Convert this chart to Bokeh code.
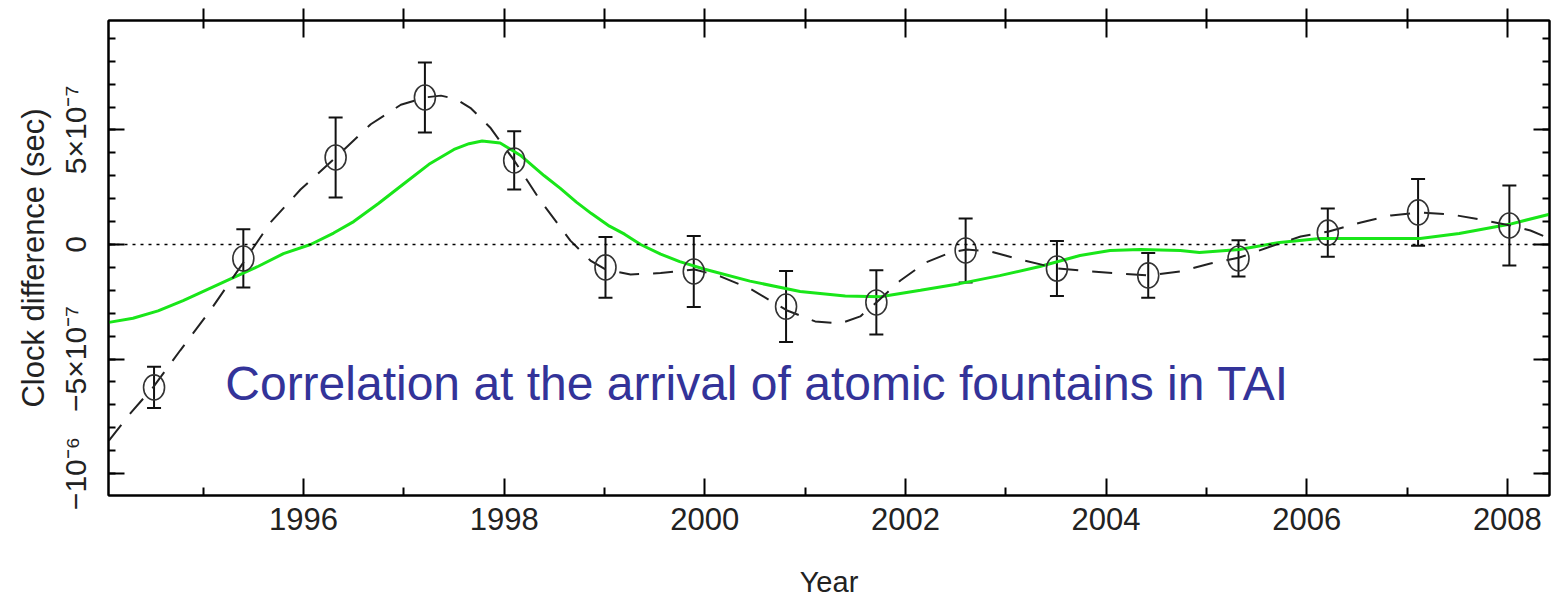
from bokeh.plotting import figure
from bokeh.models import (ColumnDataSource, Range1d, FixedTicker, LinearAxis,
                          Whisker, TeeHead, Span, Label)
from bokeh.embed import file_html
from bokeh.resources import INLINE

# ---- data (clock difference in units of 1e-7 s) ----
point_year = [1994.51, 1995.40, 1996.32, 1997.21, 1998.10, 1999.01, 1999.89, 2000.81,
              2001.71, 2002.60, 2003.51, 2004.42, 2005.32, 2006.21, 2007.11, 2008.02]
point_val = [-6.24, -0.61, 3.80, 6.42, 3.67, -1.00, -1.18, -2.71,
             -2.53, -0.26, -1.05, -1.35, -0.61, 0.52, 1.40, 0.83]
point_err = [0.90, 1.27, 1.75, 1.53, 1.27, 1.33, 1.55, 1.55,
             1.40, 1.40, 1.20, 0.98, 0.79, 1.05, 1.46, 1.75]

dash_year = [1994.06, 1994.28, 1994.50, 1994.77, 1995.07, 1995.40, 1995.67, 1995.97,
             1996.32, 1996.67, 1996.97, 1997.21, 1997.37, 1997.52, 1997.67, 1997.86,
             1998.10, 1998.36, 1998.66, 1998.86, 1999.01, 1999.26, 1999.56, 1999.90,
             2000.16, 2000.46, 2000.82, 2001.10, 2001.35, 2001.55, 2001.71, 2001.95,
             2002.20, 2002.45, 2002.61, 2002.85, 2003.15, 2003.52, 2003.85, 2004.15,
             2004.42, 2004.74, 2005.04, 2005.33, 2005.64, 2005.94, 2006.22, 2006.54,
             2006.84, 2007.12, 2007.44, 2007.73, 2008.03, 2008.23, 2008.42]
dash_val = [-8.56, -7.34, -6.24, -4.63, -2.88, -0.79, 0.96, 2.40,
            3.80, 5.25, 6.10, 6.42, 6.50, 6.35, 5.94, 5.11,
            3.67, 1.92, 0.17, -0.70, -1.09, -1.31, -1.25, -1.09,
            -1.40, -1.95, -2.88, -3.36, -3.45, -3.14, -2.53, -1.57,
            -0.79, -0.35, -0.22, -0.31, -0.66, -1.05, -1.18, -1.27,
            -1.35, -1.18, -0.83, -0.57, -0.09, 0.35, 0.57, 0.96,
            1.27, 1.40, 1.31, 1.09, 0.83, 0.61, 0.26]

green_year = [1994.06, 1994.30, 1994.55, 1994.80, 1995.05, 1995.30, 1995.55, 1995.80,
              1996.07, 1996.30, 1996.50, 1996.75, 1997.00, 1997.25, 1997.50, 1997.65,
              1997.78, 1997.96, 1998.16, 1998.40, 1998.56, 1998.72, 1998.87, 1999.05,
              1999.20, 1999.36, 1999.56, 1999.75, 2000.00, 2000.45, 2000.95, 2001.40,
              2001.75, 2002.15, 2002.54, 2002.94, 2003.34, 2003.74, 2004.04, 2004.34,
              2004.74, 2004.93, 2005.33, 2005.73, 2006.13, 2006.53, 2007.13, 2007.52,
              2008.02, 2008.42]
green_val = [-3.40, -3.22, -2.90, -2.45, -1.95, -1.45, -0.95, -0.40,
             0.00, 0.50, 1.00, 1.80, 2.65, 3.50, 4.15, 4.40,
             4.52, 4.43, 3.90, 3.00, 2.45, 1.85, 1.35, 0.80,
             0.45, 0.00, -0.42, -0.75, -1.08, -1.60, -2.05, -2.25,
             -2.28, -2.00, -1.71, -1.36, -0.96, -0.48, -0.26, -0.22,
             -0.26, -0.35, -0.22, 0.09, 0.26, 0.26, 0.26, 0.48,
             0.88, 1.32]

UNIT = 1e-7
x_major = [1994, 1996, 1998, 2000, 2002, 2004, 2006, 2008]
x_minor = [1995, 1997, 1999, 2001, 2003, 2005, 2007]
y_major = [-1e-6, -5e-7, 0.0, 5e-7]
y_major_labels = ["\u221210\u207b\u2076", "\u22125\u00d710\u207b\u2077", "0", "5\u00d710\u207b\u2077"]
y_minor = [k * 1e-7 for k in range(-11, 10)]

title_text = "Correlation at the arrival of atomic fountains in TAI"
x_title = "Year"
y_title = "Clock difference (sec)"
FONT = "Liberation Sans"

X0, X1 = 1994.056, 2008.42
Y0, Y1 = -1.096e-6, 0.978e-6

pts = ColumnDataSource(dict(
    x=point_year,
    y=[v * UNIT for v in point_val],
    upper=[(v + e) * UNIT for v, e in zip(point_val, point_err)],
    lower=[(v - e) * UNIT for v, e in zip(point_val, point_err)],
))
dash_src = ColumnDataSource(dict(x=dash_year, y=[v * UNIT for v in dash_val]))
green_src = ColumnDataSource(dict(x=green_year, y=[v * UNIT for v in green_val]))

p = figure(width=1551, height=600,
           x_range=Range1d(X0, X1), y_range=Range1d(Y0, Y1),
           output_backend="svg", toolbar_location=None,
           min_border_left=108, min_border_right=2, min_border_top=20, min_border_bottom=105,
           background_fill_color="white", border_fill_color="white")
p.xgrid.visible = False
p.ygrid.visible = False
p.outline_line_color = "black"
p.outline_line_width = 2

# zero reference line
p.add_layout(Span(location=0, dimension="width", line_color="black",
                  line_width=1.5, line_dash="3 5"))

# green curve
p.line("x", "y", source=green_src, line_color="#19e619", line_width=3)
# dashed curve
p.line("x", "y", source=dash_src, line_color="#222222", line_width=2, line_dash="20 14")

# error bars
p.add_layout(Whisker(source=pts, base="x", upper="upper", lower="lower",
                     line_color="#111111", line_width=2,
                     upper_head=TeeHead(size=14, line_color="#111111", line_width=2),
                     lower_head=TeeHead(size=14, line_color="#111111", line_width=2)))
# open circles
p.ellipse(x="x", y="y", source=pts, width=21, height=25,
          width_units="screen", height_units="screen",
          fill_color=None, line_color="#333333", line_width=1.6)

# annotation text
p.add_layout(Label(x=1995.22, y=-6.07e-7, text=title_text, text_font=FONT,
                   text_font_size="48px", text_color="#333399",
                   text_baseline="alphabetic", text_align="left"))

# bottom axis
xa = p.xaxis[0]
xa.ticker = FixedTicker(ticks=x_major, minor_ticks=x_minor)
xa.axis_label = x_title
xa.axis_label_text_font = FONT
xa.axis_label_text_font_size = "29px"
xa.axis_label_text_font_style = "normal"
xa.axis_label_text_color = "#222222"
xa.axis_label_standoff = 33
xa.major_label_text_font = FONT
xa.major_label_text_font_size = "31px"
xa.major_label_text_color = "#222222"
xa.major_label_standoff = 12
xa.major_tick_in = 17
xa.major_tick_out = 0
xa.minor_tick_in = 8
xa.minor_tick_out = 0
xa.axis_line_width = 2
xa.major_tick_line_width = 2
xa.minor_tick_line_width = 2

# left axis
ya = p.yaxis[0]
ya.ticker = FixedTicker(ticks=y_major, minor_ticks=y_minor)
ya.major_label_overrides = dict(zip(y_major, y_major_labels))
ya.major_label_orientation = "vertical"
ya.axis_label = y_title
ya.axis_label_text_font = FONT
ya.axis_label_text_font_size = "31px"
ya.axis_label_text_font_style = "normal"
ya.axis_label_text_color = "#222222"
ya.axis_label_standoff = 6
ya.major_label_text_font = FONT
ya.major_label_text_font_size = "30px"
ya.major_label_text_color = "#222222"
ya.major_label_standoff = 16
ya.major_tick_in = 16
ya.major_tick_out = 0
ya.minor_tick_in = 7
ya.minor_tick_out = 0
ya.axis_line_width = 2
ya.major_tick_line_width = 2
ya.minor_tick_line_width = 2

# top axis (ticks only)
top = LinearAxis(ticker=FixedTicker(ticks=x_major, minor_ticks=x_minor),
                 major_label_overrides={t: "" for t in x_major},
                 major_tick_in=17, major_tick_out=12, minor_tick_in=8, minor_tick_out=12,
                 major_label_standoff=0, axis_line_width=2,
                 major_tick_line_width=2, minor_tick_line_width=2)
p.add_layout(top, "above")

# right axis (ticks only)
right = LinearAxis(ticker=FixedTicker(ticks=y_major, minor_ticks=y_minor),
                   major_label_overrides={t: "" for t in y_major},
                   major_tick_in=16, major_tick_out=0, minor_tick_in=7, minor_tick_out=0,
                   major_label_standoff=0, axis_line_width=2,
                   major_tick_line_width=2, minor_tick_line_width=2)
p.add_layout(right, "right")

open("out.html", "w").write(file_html(p, INLINE))
